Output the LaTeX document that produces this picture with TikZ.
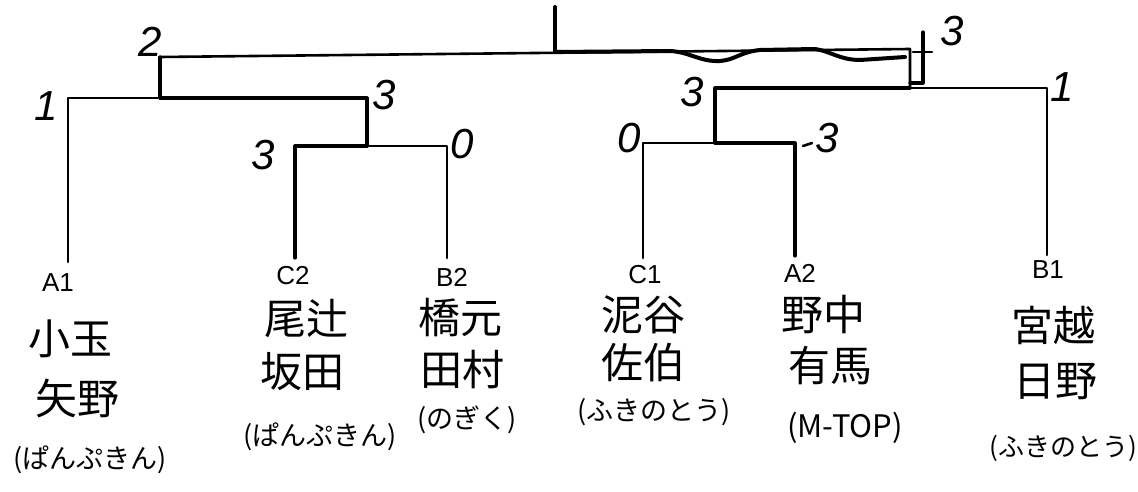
\documentclass[tikz,border=0pt]{standalone}
\usepackage{fontspec}
\setmainfont{Liberation Sans}
\newfontfamily\jp{Noto Sans CJK JP}
\begin{document}
\begin{tikzpicture}[x=1pt,y=-1pt,
  line/.style={line width=2.6pt,line cap=round,line join=round},
  win/.style={line width=3.2pt,line cap=round,line join=round},
  hand/.style={line width=4pt,line cap=round,line join=round},
  seed/.style={font=\fontsize{26}{26}\selectfont,inner sep=0pt},
  nm/.style={font=\jp\fontsize{42}{42}\selectfont,inner sep=0pt},
  team/.style={font=\jp\fontsize{27}{27}\selectfont,inner sep=0pt},
  score/.style={font=\fontsize{42}{42}\selectfont\itshape,inner sep=0pt}]
\useasboundingbox (0,0) rectangle (1138,492);
% seeds
\node[seed] (A1) at (58,283) {A1};
\node[seed] (C2) at (293,276) {C2};
\node[seed] (B2) at (452,277) {B2};
\node[seed] (C1) at (645,275) {C1};
\node[seed] (A2) at (800,273) {A2};
\node[seed] (B1) at (1048,270) {B1};
% leaf tops
\coordinate (a1) at (68,262);
\coordinate (c2) at (295,258);
\coordinate (b2) at (447,258);
\coordinate (c1) at (643,258);
\coordinate (a2) at (795,256);
\coordinate (b1) at (1047,255);
% matches
\coordinate (m1) at (367,146);
\coordinate (m2) at (160,98);
\coordinate (m3) at (715,143);
\coordinate (m4) at (910,88);
\coordinate (fl) at (160,57);
\coordinate (fr) at (910,49);
\coordinate (fin) at (555,52);
\coordinate (top) at (555,7);
% bracket lines
\draw[line] (a1) |- (m2);
\draw[line] (b2) |- (m1);
\draw[win] (c2) |- (m1);
\draw[win] (m1) |- (m2);
\draw[win] (m2) -- (fl);
\draw[line] (fl) -- (fr) -- (m4);
\draw[line] (c1) |- (m3);
\draw[win] (a2) |- (m3);
\draw[win] (m3) |- (m4);
\draw[line] (b1) |- (m4);
\draw[hand] (fin) -- (top);
% hand-drawn winner stroke along the final bar
\draw[hand] (fin) -- (670,51) .. controls (690,52) and (700,62) .. (720,61)
  .. controls (735,60) and (740,52) .. (760,50) -- (815,49)
  .. controls (830,51) and (840,60) .. (860,60) -- (905,57);
% correction mark at the right junction
\coordinate (px) at (923,32);
\coordinate (pb) at (923,83);
\draw[win] (px) -- (pb) -- (m4 |- pb);
\draw[line] (913,52) -- (932,52);
\draw[line] (803,146) -- (812,143);
% scores
\node[score] (s1) at (46,106) {1};
\node[score] (s2) at (150,42) {2};
\node[score] (s3) at (384,95) {3};
\node[score] (s4) at (263,155) {3};
\node[score] (s5) at (462,144) {0};
\node[score] (s6) at (629,138) {0};
\node[score] (s7) at (827,138) {3};
\node[score] (s8) at (692,92) {3};
\node[score] (s9) at (1062,87) {1};
\node[score] (s10) at (952,31) {3};
% names
\node[nm] (n1a) at (70,339) {小玉};
\node[nm] (n1b) at (77,398) {矢野};
\node[team] (t1) at (90,460) {(ぱんぷきん)};
\node[nm] (n2a) at (306,318) {尾辻};
\node[nm] (n2b) at (302,372) {坂田};
\node[team] (t2) at (320,437) {(ぱんぷきん)};
\node[nm] (n3a) at (460,318) {橋元};
\node[nm] (n3b) at (462,370) {田村};
\node[team] (t3) at (467,420) {(のぎく)};
\node[nm] (n4a) at (643,315) {泥谷};
\node[nm] (n4b) at (643,363) {佐伯};
\node[team] (t4) at (654,412) {(ふきのとう)};
\node[nm] (n5a) at (823,315) {野中};
\node[nm] (n5b) at (830,366) {有馬};
\node[team,font=\jp\fontsize{31}{31}\selectfont] (t5) at (845,428) {(M-TOP)};
\node[nm] (n6a) at (1053,325) {宮越};
\node[nm] (n6b) at (1055,382) {日野};
\node[team,font=\jp\fontsize{26}{26}\selectfont] (t6) at (1063,448) {(ふきのとう)};
\end{tikzpicture}
\end{document}
